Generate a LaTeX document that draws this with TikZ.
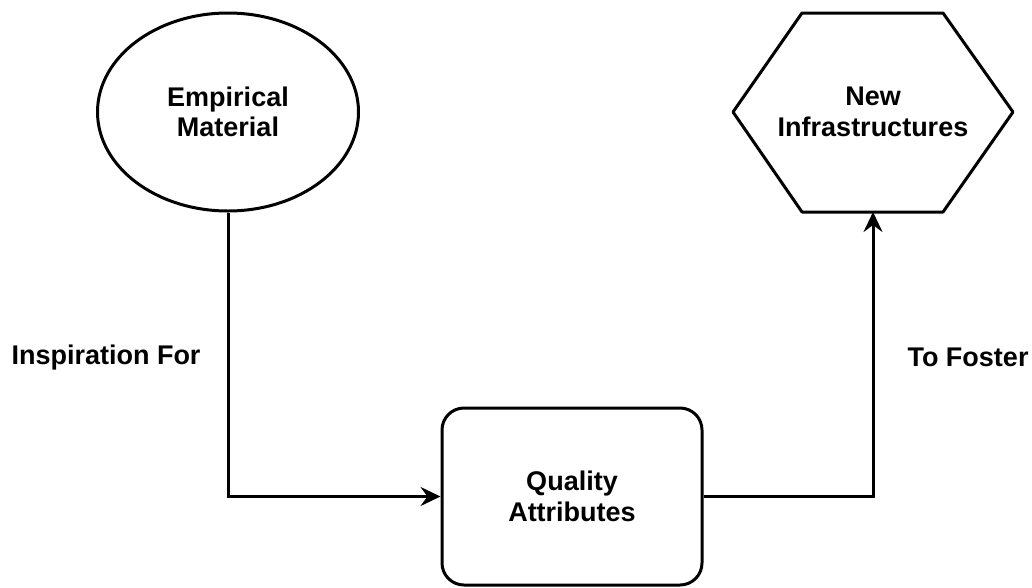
\documentclass[tikz,border=0pt]{standalone}
\usepackage{fontspec}
\setmainfont{Liberation Sans}
\usetikzlibrary{shapes.geometric,arrows.meta}
\begin{document}
\begin{tikzpicture}[x=1pt,y=-1pt,
  lbl/.style={font=\fontsize{27}{30.5}\selectfont\bfseries, align=center},
  shapeline/.style={draw=black, line width=3pt},
  flow/.style={draw=black, line width=3pt, line join=miter, -{Stealth[length=20pt,width=19pt,inset=7pt]}}]
\useasboundingbox (0,0) rectangle (1032,587);
% source ellipse
\node[shapeline, ellipse, minimum width=261pt, minimum height=198pt, inner sep=0pt, lbl]
  (emp) at (228,112) {Empirical\\Material};
% target hexagon, flat top and bottom
\draw[shapeline, line join=round] (802,13) -- (943,13) -- (1013,112) -- (943,212)
  -- (802,212) -- (733,112) -- cycle;
\coordinate (infbottom) at (873,212);
\node[lbl] (inf) at (873,112) {New\\Infrastructures};
% middle rounded box
\node[shapeline, rectangle, rounded corners=22pt, minimum width=260pt, minimum height=177pt, lbl]
  (qa) at (572,496.5) {Quality\\Attributes};
% connectors
\draw[flow] (emp.south) |- (qa.west);
\coordinate (turn) at (873,496.5);
\draw[flow] (qa.east) -- (turn) -- (infbottom);
% connector labels
\node[lbl] (insp) at (106,357.5) {Inspiration For};
\node[lbl] (fost) at (968,357.5) {To Foster};
\end{tikzpicture}
\end{document}
